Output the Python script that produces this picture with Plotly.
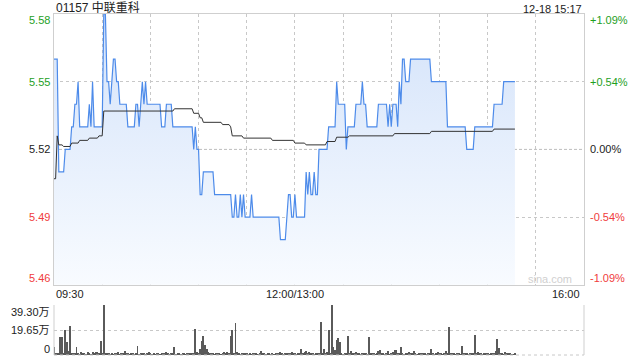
import plotly.graph_objects as go

# ---------------- data ----------------
# x = minutes since 09:30 on a 330-minute trading day (12:00-13:00 lunch removed)
# each entry: minute at which the last price changes to the given value
price_min = [0, 3, 7, 11, 13, 15, 16, 22, 23, 24, 25, 31, 33, 35, 36, 37, 39, 41, 46, 51,
             53, 54, 55, 56, 57, 58, 67, 70, 74, 87, 88, 89, 91, 93, 100, 111, 113, 114, 116, 117,
             118, 119, 123, 124, 141, 145, 146, 148, 150, 151, 157, 158, 159, 160, 162, 163, 165, 171, 176, 177,
             182, 183, 188, 192, 193, 195, 202, 208, 209, 210, 211, 214, 215, 216, 217, 219, 222, 235, 245, 257,
             262, 274, 280, 287]
price_val = [5.56, 5.51, 5.52, 5.53, 5.54, 5.55, 5.53, 5.54, 5.53, 5.55, 5.53, 5.58, 5.55, 5.54, 5.55, 5.56, 5.55, 5.54, 5.53, 5.54,
             5.53, 5.54, 5.55, 5.54, 5.55, 5.54, 5.53, 5.54, 5.53, 5.52, 5.53, 5.52, 5.50, 5.51, 5.50, 5.49, 5.50, 5.49, 5.50, 5.49,
             5.50, 5.49, 5.50, 5.49, 5.48, 5.49, 5.50, 5.49, 5.50, 5.49, 5.51, 5.50, 5.51, 5.50, 5.51, 5.50, 5.52, 5.53, 5.55, 5.54,
             5.52, 5.53, 5.54, 5.55, 5.54, 5.53, 5.54, 5.53, 5.54, 5.53, 5.54, 5.53, 5.55, 5.54, 5.56, 5.55, 5.56, 5.55, 5.53, 5.52,
             5.53, 5.54, 5.55, 5.55]

avg_min = [0, 2, 3, 6, 11, 16, 22, 28, 31, 75, 87, 91, 93, 105, 110, 111, 118, 136, 150, 157,
           170, 176, 184, 212, 235, 274, 287]
avg_val = [5.507, 5.526, 5.522, 5.5213, 5.5228, 5.524, 5.525, 5.526, 5.537, 5.538, 5.536, 5.534, 5.532, 5.531, 5.530, 5.526, 5.525, 5.524, 5.5228, 5.522,
           5.5235, 5.5254, 5.526, 5.527, 5.528, 5.529, 5.529]

# volume per minute, in 万 shares
volume = [
    6.6, 1.0, 0.8, 1.5, 14.5, 14.5, 1.2, 19.8, 10.6, 3.0,
    22.5, 1.5, 1.8, 1.0, 6.6, 1.2, 0.6, 2.6, 0.8, 1.0,
    0.5, 2.6, 1.2, 0.7, 2.6, 1.5, 2.6, 2.0, 1.2, 11.4,
    1.0, 39.3, 0.8, 1.0, 1.6, 0.5, 1.2, 0.7, 0.9, 1.5,
    2.0, 0.6, 1.1, 1.8, 3.0, 1.0, 0.8, 0.6, 1.0, 1.2,
    0.5, 1.0, 7.4, 0.5, 0.8, 1.5, 1.0, 0.6, 0.8, 2.2,
    1.0, 0.7, 1.2, 0.6, 1.6, 0.9, 0.5, 1.8, 1.0, 0.8,
    2.2, 1.0, 0.7, 1.2, 0.8, 6.6, 0.7, 1.0, 1.3, 0.6,
    0.8, 1.0, 0.5, 0.9, 1.5, 0.8, 1.2, 0.8, 20.6, 2.0,
    0.8, 4.8, 11.4, 15.3, 8.2, 4.8, 2.0, 1.0, 0.8, 1.5,
    0.7, 1.2, 1.7, 0.9, 0.6, 1.3, 2.2, 1.0, 2.6, 1.0,
    15.3, 19.8, 1.5, 24.8, 2.6, 0.9, 0.6, 1.2, 1.6, 0.8,
    1.0, 0.7, 1.3, 0.6, 0.9, 1.2, 0.8, 0.5, 1.0, 3.0,
    0.8, 1.1, 0.6, 1.4, 0.9, 0.7, 1.2, 0.5, 1.6, 1.0,
    0.8, 2.0, 1.2, 0.6, 1.6, 1.0, 0.8, 1.4, 2.2, 0.9,
    1.5, 0.7, 1.0, 1.6, 4.8, 1.2, 2.0, 3.0, 1.6, 2.2,
    0.8, 1.0, 0.6, 0.9, 1.2, 1.0, 25.7, 1.5, 4.8, 1.2,
    2.0, 19.8, 1.0, 39.3, 6.6, 4.0, 11.9, 13.2, 10.0, 1.0,
    0.6, 1.5, 0.8, 15.3, 1.0, 3.0, 1.4, 1.6, 2.0, 1.0,
    1.5, 0.6, 1.0, 0.8, 1.2, 0.7, 14.5, 1.0, 0.8, 1.4,
    0.6, 1.0, 3.0, 4.0, 1.0, 0.8, 0.5, 1.2, 3.0, 0.7,
    1.0, 2.6, 4.0, 4.0, 1.5, 1.0, 6.6, 1.0, 0.7, 1.2,
    1.0, 2.6, 0.8, 1.0, 3.0, 0.9, 0.6, 1.2, 1.0, 0.8,
    1.5, 1.0, 0.7, 1.2, 0.8, 4.8, 1.0, 0.6, 1.0, 2.6,
    0.8, 1.0, 0.7, 1.2, 3.0, 1.5, 22.0, 1.0, 0.8, 1.2,
    0.6, 1.0, 0.9, 0.7, 7.4, 1.0, 0.8, 1.4, 0.6, 1.6,
    1.0, 0.8, 16.0, 1.0, 2.6, 0.8, 1.2, 0.6, 1.0, 0.9,
    1.2, 0.7, 1.0, 1.5, 0.8, 2.8, 12.2, 5.6, 0.8, 1.0,
    0.6, 2.6, 1.0, 0.8, 1.2, 0.7, 0.5, 0.9,
]
vol_min = list(range(len(volume)))

prev_close = 5.52
y_ticks = [5.58, 5.55, 5.52, 5.49, 5.46]
y_labels = ["5.58", "5.55", "5.52", "5.49", "5.46"]
pct_labels = ["+1.09%", "+0.54%", "0.00%", "-0.54%", "-1.09%"]
vol_ticks = [39.3, 19.65, 0]
vol_labels = ["39.30万", "19.65万", "0"]
x_labels = [(0, "09:30", "left"), (150, "12:00/13:00", "center"), (330, "16:00", "right")]
title = "01157 中联重科"
stamp = "12-18 15:17"


def hold_points(mins, vals):
    """Per-minute line: a value holds until the minute before the next change."""
    xs, ys = [], []
    for i, (m, v) in enumerate(zip(mins, vals)):
        xs.append(m)
        ys.append(v)
        if i + 1 < len(mins) and mins[i + 1] - 1 > m:
            xs.append(mins[i + 1] - 1)
            ys.append(v)
    return xs, ys


px, py = hold_points(price_min, price_val)
ax, ay = hold_points(avg_min, avg_val)

# ---------------- styles ----------------
FONT = "Liberation Sans, Arial, Noto Sans CJK SC, sans-serif"
GREEN = "#1ea01e"
RED = "#f03c3c"
BLACK = "#222222"
GRID = "#c8c8c8"
FRAME = "#cfcfcf"
BLUE = "#4d8bea"

fig = go.Figure()

fig.add_trace(go.Scatter(
    x=px, y=py, mode="lines", line=dict(color=BLUE, width=1.2),
    fill="tozeroy",
    fillgradient=dict(type="vertical", start=5.46, stop=5.58,
                      colorscale=[[0, "rgba(248,251,255,1)"], [1, "rgba(212,227,250,1)"]]),
    xaxis="x", yaxis="y", hoverinfo="skip", showlegend=False))

fig.add_trace(go.Scatter(
    x=ax, y=ay, mode="lines", line=dict(color="#333333", width=1),
    xaxis="x", yaxis="y", hoverinfo="skip", showlegend=False))

fig.add_trace(go.Bar(
    x=vol_min, y=volume, width=0.6, marker=dict(color="#5a5a5a", line=dict(width=0)),
    xaxis="x2", yaxis="y2", hoverinfo="skip", showlegend=False))

main_bottom = (355 - 284.8) / 341
vol_top = 50 / 341

fig.update_layout(
    width=640, height=360,
    margin=dict(l=54, r=56, t=14, b=5),
    paper_bgcolor="white", plot_bgcolor="rgba(0,0,0,0)",
    font=dict(family=FONT, size=11, color=BLACK),
    bargap=0,
    xaxis=dict(domain=[0, 1], range=[0, 330], tickvals=list(range(30, 330, 30)),
               showticklabels=False, ticks="", showgrid=True, gridcolor=GRID, griddash="dot",
               gridwidth=1, zeroline=False, showline=True, linecolor=FRAME, mirror=True,
               anchor="y", layer="below traces"),
    yaxis=dict(domain=[main_bottom, 1], range=[5.46, 5.58], tickvals=[5.49, 5.55],
               showticklabels=False, ticks="", showgrid=True, gridcolor=GRID, griddash="dot",
               zeroline=False, showline=True, linecolor=FRAME, mirror=True, anchor="x"),
    xaxis2=dict(domain=[0, 1], range=[0, 330], tickvals=list(range(30, 330, 30)),
                showticklabels=False, ticks="", showgrid=False, zeroline=False,
                showline=False, anchor="y2"),
    yaxis2=dict(domain=[0, vol_top], range=[0, 39.3], tickvals=[19.65, 39.3],
                showticklabels=False, ticks="", showgrid=True, gridcolor=GRID, griddash="dot",
                zeroline=False, showline=False, anchor="x2"),
)

shapes = []
# dashed prev-close line
shapes.append(dict(type="line", xref="x domain", yref="y", x0=0, x1=1, y0=prev_close, y1=prev_close,
                   line=dict(color="#bdbdbd", width=1, dash="3px,2px"), layer="below"))
# volume panel side borders and bottom
shapes.append(dict(type="line", xref="x2 domain", yref="y2 domain", x0=0, x1=0, y0=0, y1=1,
                   line=dict(color=FRAME, width=1)))
shapes.append(dict(type="line", xref="x2 domain", yref="y2 domain", x0=1, x1=1, y0=0, y1=1,
                   line=dict(color=FRAME, width=1)))
shapes.append(dict(type="line", xref="x2 domain", yref="y2 domain", x0=0, x1=1, y0=0, y1=0,
                   line=dict(color=GRID, width=1, dash="dot")))
fig.update_layout(shapes=shapes)

ann = []
colors = [GREEN, GREEN, BLACK, RED, RED]
shifts = [-6, 0, 0, 0, 7]
for v, lab, pl, c, s in zip(y_ticks, y_labels, pct_labels, colors, shifts):
    ann.append(dict(xref="paper", yref="y", x=0, y=v, text=lab, showarrow=False,
                    xanchor="right", yanchor="middle", xshift=-2, yshift=s,
                    font=dict(size=11, color=c, family=FONT)))
    ann.append(dict(xref="paper", yref="y", x=1, y=v, text=pl, showarrow=False,
                    xanchor="left", yanchor="middle", xshift=4, yshift=s,
                    font=dict(size=11, color=c, family=FONT)))
vshifts = [-7, 0, 6]
for v, lab, s in zip(vol_ticks, vol_labels, vshifts):
    ann.append(dict(xref="paper", yref="y2", x=0, y=v, text=lab, showarrow=False,
                    xanchor="right", yanchor="middle", xshift=-2, yshift=s,
                    font=dict(size=11, color=BLACK, family=FONT)))
for xv, lab, anc in x_labels:
    ann.append(dict(xref="x", yref="y domain", x=xv, y=0, text=lab, showarrow=False,
                    xanchor=anc, yanchor="top", yshift=-1, xshift=-2 if anc == "right" else 0,
                    font=dict(size=11, color=BLACK, family=FONT)))
ann.append(dict(xref="paper", yref="paper", x=0, y=1, text=title, showarrow=False,
                xanchor="left", yanchor="bottom", yshift=-3,
                font=dict(size=12, color=BLACK, family=FONT)))
ann.append(dict(xref="paper", yref="paper", x=1, y=1, text=stamp, showarrow=False,
                xanchor="right", yanchor="bottom", yshift=-3,
                font=dict(size=11, color=BLACK, family=FONT)))
ann.append(dict(xref="paper", yref="y domain", x=1, y=0, text="sina.com", showarrow=False,
                xanchor="right", yanchor="bottom", xshift=-10, yshift=-2,
                font=dict(size=11, color="#d0d0d0", family=FONT)))
fig.update_layout(annotations=ann)

fig.write_html("out.html")
